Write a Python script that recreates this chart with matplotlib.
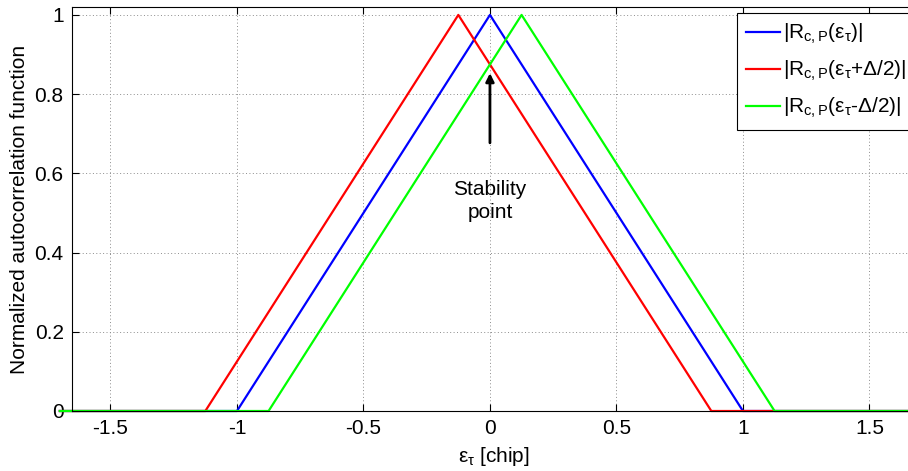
import matplotlib
matplotlib.use('Agg')
import matplotlib.pyplot as plt

plt.rcParams['font.family'] = ['Liberation Sans', 'DejaVu Sans']
plt.rcParams['mathtext.fontset'] = 'custom'
plt.rcParams['mathtext.rm'] = 'Liberation Sans'
plt.rcParams['mathtext.it'] = 'Liberation Sans'

# retardo en chips y autocorrelacion normalizada
x_centro = [-1.7, -1.0, 0.0, 1.0, 1.7]
y_centro = [0.0, 0.0, 1.0, 0.0, 0.0]
x_adelantado = [-1.7, -1.125, -0.125, 0.875, 1.7]
y_adelantado = [0.0, 0.0, 1.0, 0.0, 0.0]
x_atrasado = [-1.7, -0.875, 0.125, 1.125, 1.7]
y_atrasado = [0.0, 0.0, 1.0, 0.0, 0.0]

etiquetas = [r'|R$_{\mathrm{c,P}}$($\epsilon_{\tau}$)|',
             r'|R$_{\mathrm{c,P}}$($\epsilon_{\tau}$+$\Delta$/2)|',
             r'|R$_{\mathrm{c,P}}$($\epsilon_{\tau}$-$\Delta$/2)|']

x_ticks = [-1.5, -1, -0.5, 0, 0.5, 1, 1.5]
x_ticklabels = ['-1.5', '-1', '-0.5', '0', '0.5', '1', '1.5']
y_ticks = [0, 0.2, 0.4, 0.6, 0.8, 1]
y_ticklabels = ['0', '0.2', '0.4', '0.6', '0.8', '1']

fig = plt.figure(figsize=(9.08, 4.71), dpi=100)
ax = fig.add_axes([72/908, 1 - 411/471, (916-72)/908, (411-7)/471])

ax.plot(x_centro, y_centro, color='#0000ff', lw=1.6, label=etiquetas[0], clip_on=False)
ax.plot(x_adelantado, y_adelantado, color='#ff0000', lw=1.6, label=etiquetas[1], clip_on=False)
ax.plot(x_atrasado, y_atrasado, color='#00ff00', lw=1.6, label=etiquetas[2], clip_on=False)

ax.set_xlim(-1.652, 1.684)
ax.set_ylim(0, 1.02)
ax.set_xticks(x_ticks)
ax.set_xticklabels(x_ticklabels)
ax.set_yticks(y_ticks)
ax.set_yticklabels(y_ticklabels)
ax.tick_params(direction='in', labelsize=15, length=5, top=True, right=True, pad=6)
ax.grid(True, linestyle=(0, (1, 2.5)), color='#8c8c8c', lw=0.7)
ax.set_axisbelow(True)
for s in ax.spines.values():
    s.set_linewidth(0.8)

ax.set_xlabel(r'$\epsilon_{\tau}$ [chip]', fontsize=15, labelpad=5)
ax.set_ylabel('Normalized autocorrelation function', fontsize=15, labelpad=4)

ax.annotate('', xy=(0, 0.86), xytext=(0, 0.67),
            arrowprops=dict(arrowstyle='-|>', color='black', lw=2, mutation_scale=12))
ax.text(0, 0.53, 'Stability\npoint', ha='center', va='center', fontsize=15, linespacing=1.3)

# el recuadro de la leyenda queda cortado por el borde derecho, como en la figura original
leg = ax.legend(loc='upper left', bbox_to_anchor=(0.788, 0.986), fontsize=15,
                fancybox=False, edgecolor='black', framealpha=1, handlelength=1.6,
                handletextpad=0.15, borderaxespad=0, labelspacing=0.62, borderpad=0.45)
leg.get_frame().set_linewidth(0.8)
# ensanchar solo el marco para que su borde derecho quede fuera de la imagen
fig.canvas.draw()
marco = leg.get_frame()
marco.set_width(marco.get_width() + 30)

plt.savefig('out.png', dpi=100)
